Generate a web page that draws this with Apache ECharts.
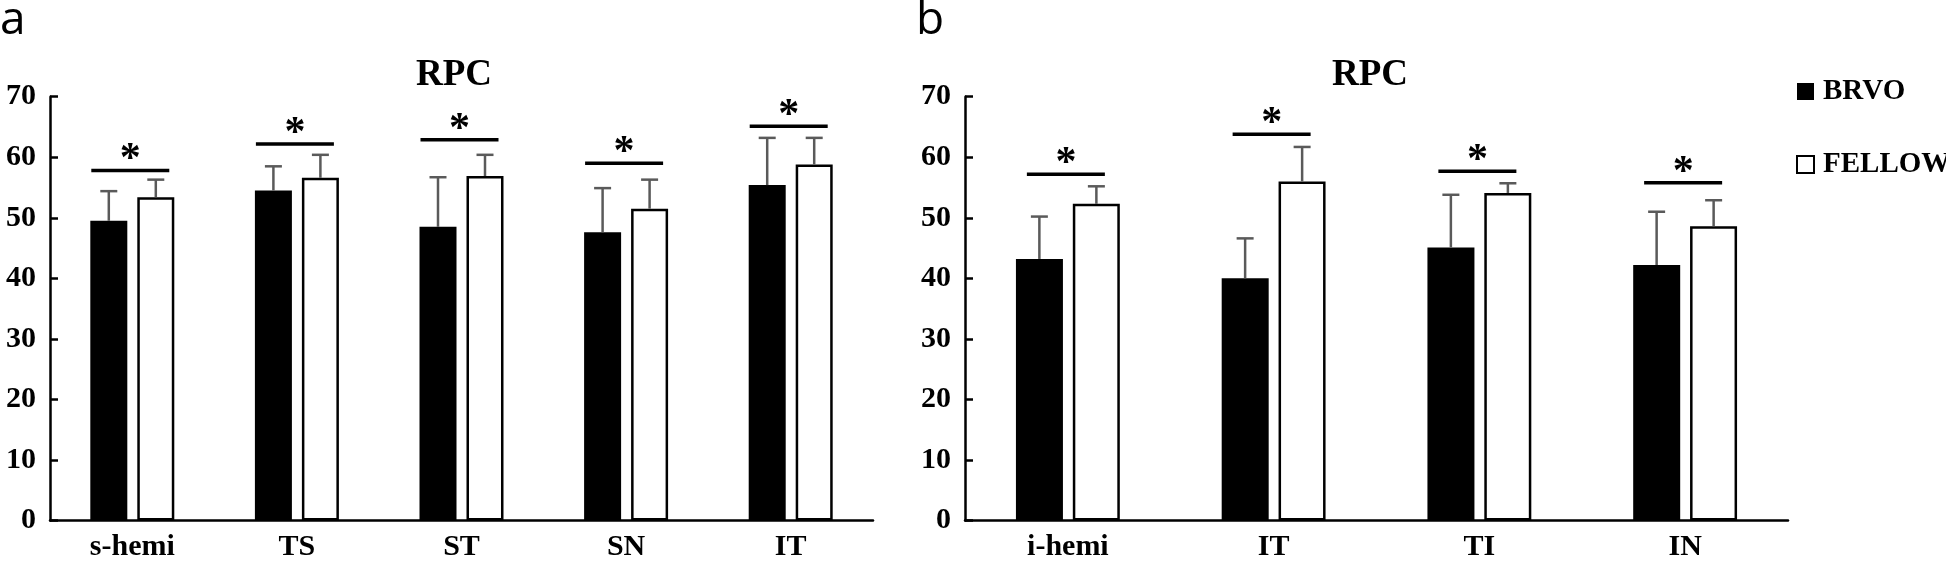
<!DOCTYPE html>
<html>
<head>
<meta charset="utf-8">
<script src="https://cdn.jsdelivr.net/npm/echarts@6/dist/echarts.min.js"></script>
<style>
  html, body { margin: 0; padding: 0; background: #fff; }
  #main { width: 1946px; height: 564px; }
</style>
</head>
<body>
<div id="main"></div>
<script>
// panel a: superior sectors
var catsA = ['s-hemi', 'TS', 'ST', 'SN', 'IT'];
var brvoA = [49.5, 54.5, 48.5, 47.6, 55.4];
var brvoSdA = [4.9, 4.0, 8.2, 7.3, 7.8];
var fellowA = [53.4, 56.6, 56.9, 51.5, 58.8];
var fellowSdA = [2.9, 3.8, 3.5, 4.8, 4.4];
var sigA = [57.8, 62.2, 62.9, 59.0, 65.1];

// panel b: inferior sectors
var catsB = ['i-hemi', 'IT', 'TI', 'IN'];
var brvoB = [43.2, 40.0, 45.1, 42.2];
var brvoSdB = [7.0, 6.6, 8.7, 8.8];
var fellowB = [52.3, 56.0, 54.1, 48.6];
var fellowSdB = [2.9, 5.7, 1.6, 4.3];
var sigB = [57.2, 63.8, 57.7, 55.8];

var yTicks = [0, 10, 20, 30, 40, 50, 60, 70];

var serif = '"Liberation Serif", "Times New Roman", serif';
var chart = echarts.init(document.getElementById('main'));

function errData(vals, sds) {
    return vals.map(function (v, i) { return [i, v, v + sds[i]]; });
}

// draws the upper error whisker, shifted off the band centre onto its bar
function errorBar(offset) {
    return function (params, api) {
        var p0 = api.coord([api.value(0), api.value(1)]);
        var p1 = api.coord([api.value(0), api.value(2)]);
        var x = p0[0] + offset;
        var st = { stroke: '#5a5a5a', lineWidth: 2.5 };
        return {
            type: 'group',
            children: [
                { type: 'line', shape: { x1: x, y1: p0[1], x2: x, y2: p1[1] }, style: st },
                { type: 'line', shape: { x1: x - 8.5, y1: p1[1], x2: x + 8.5, y2: p1[1] }, style: st }
            ]
        };
    };
}

function sigMark(params, api) {
    var p = api.coord([api.value(0), api.value(1)]);
    return {
        type: 'group',
        children: [
            { type: 'line', shape: { x1: p[0] - 41, y1: p[1], x2: p[0] + 37, y2: p[1] },
              style: { stroke: '#000', lineWidth: 3.5 } },
            { type: 'text', style: { text: '*', x: p[0] - 2, y: p[1] - 10, align: 'center',
              verticalAlign: 'middle', font: 'bold 42px ' + serif, fill: '#000' } }
        ]
    };
}

function yAxis(idx) {
    return {
        type: 'value', gridIndex: idx, min: 0, max: 70, interval: 10,
        axisLine: { show: true, lineStyle: { color: '#000', width: 2.5 } },
        axisTick: { show: true, inside: true, length: 8, lineStyle: { color: '#000', width: 2.5 } },
        axisLabel: { margin: 14, color: '#000', fontSize: 30, fontWeight: 'bold', fontFamily: serif,
            formatter: function (v) { return yTicks.indexOf(v) >= 0 ? String(v) : ''; } },
        splitLine: { show: false }
    };
}

function xAxis(idx, cats) {
    return {
        type: 'category', gridIndex: idx, data: cats,
        axisLine: { lineStyle: { color: '#000', width: 2.5 } },
        axisTick: { show: false },
        axisLabel: { margin: 12, color: '#000', fontSize: 30, fontWeight: 'bold', fontFamily: serif }
    };
}

var brvoStyle = { color: '#000' };
var fellowStyle = { color: '#fff', borderColor: '#000', borderWidth: 2.5 };

var option = {
    backgroundColor: '#fff',
    animation: false,
    title: [
        { text: 'RPC', left: 449, top: 52, textAlign: 'center',
          textStyle: { fontSize: 37, fontWeight: 'bold', fontFamily: serif, color: '#000' } },
        { text: 'RPC', left: 1365, top: 52, textAlign: 'center',
          textStyle: { fontSize: 37, fontWeight: 'bold', fontFamily: serif, color: '#000' } }
    ],
    graphic: [
        { type: 'text', left: 0, top: -2, style: { text: 'a', font: '46px "Open Sans", sans-serif', fill: '#000' } },
        { type: 'text', left: 916, top: -2, style: { text: 'b', font: '46px "Open Sans", sans-serif', fill: '#000' } }
    ],
    legend: {
        orient: 'vertical', left: 1791, top: 72, itemWidth: 17, itemHeight: 17, itemGap: 44,
        icon: 'rect', data: ['BRVO', 'FELLOW'],
        textStyle: { fontSize: 29, fontWeight: 'bold', fontFamily: serif, color: '#000', padding: [0, 0, 0, 4] }
    },
    grid: [
        { left: 50, width: 823, top: 96.7, bottom: 43.5 },
        { left: 965, width: 823, top: 96.7, bottom: 43.5 }
    ],
    xAxis: [xAxis(0, catsA), xAxis(1, catsB)],
    yAxis: [yAxis(0), yAxis(1)],
    series: [
        { name: 'BRVO', type: 'bar', xAxisIndex: 0, yAxisIndex: 0, data: brvoA,
          barWidth: 37, barGap: '27%', itemStyle: brvoStyle },
        { name: 'FELLOW', type: 'bar', xAxisIndex: 0, yAxisIndex: 0, data: fellowA,
          barWidth: 37, barGap: '27%', itemStyle: fellowStyle },
        { name: 'BRVO', type: 'bar', xAxisIndex: 1, yAxisIndex: 1, data: brvoB,
          barWidth: 47, barGap: '21%', itemStyle: brvoStyle },
        { name: 'FELLOW', type: 'bar', xAxisIndex: 1, yAxisIndex: 1, data: fellowB,
          barWidth: 47, barGap: '21%', itemStyle: fellowStyle },
        { type: 'custom', xAxisIndex: 0, yAxisIndex: 0, z: 5, data: errData(brvoA, brvoSdA), renderItem: errorBar(-23.5) },
        { type: 'custom', xAxisIndex: 0, yAxisIndex: 0, z: 5, data: errData(fellowA, fellowSdA), renderItem: errorBar(23.5) },
        { type: 'custom', xAxisIndex: 1, yAxisIndex: 1, z: 5, data: errData(brvoB, brvoSdB), renderItem: errorBar(-28.5) },
        { type: 'custom', xAxisIndex: 1, yAxisIndex: 1, z: 5, data: errData(fellowB, fellowSdB), renderItem: errorBar(28.5) },
        { type: 'custom', xAxisIndex: 0, yAxisIndex: 0, z: 5, data: sigA.map(function (v, i) { return [i, v]; }), renderItem: sigMark },
        { type: 'custom', xAxisIndex: 1, yAxisIndex: 1, z: 5, data: sigB.map(function (v, i) { return [i, v]; }), renderItem: sigMark }
    ]
};

chart.setOption(option);
</script>
</body>
</html>
